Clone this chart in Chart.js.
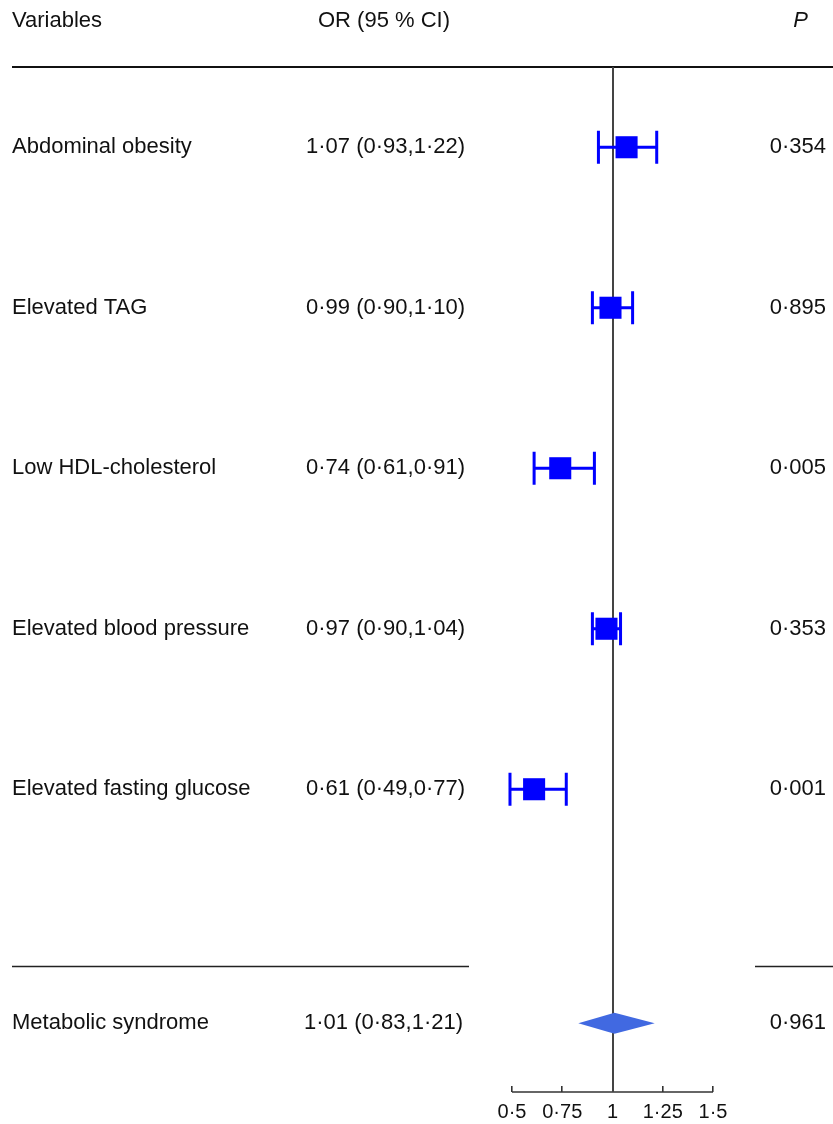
<!DOCTYPE html>
<html>
<head>
<meta charset="utf-8">
<script src="https://cdn.jsdelivr.net/npm/chart.js@4/dist/chart.umd.min.js"></script>
<style>
body { margin: 0; background: #fff; overflow: hidden; }
canvas { display: block; }
</style>
</head>
<body>
<canvas id="forest" width="833" height="1124"></canvas>
<script>
// data
const variables = ['Abdominal obesity', 'Elevated TAG', 'Low HDL-cholesterol', 'Elevated blood pressure', 'Elevated fasting glucose']
const orValues = [1.07, 0.99, 0.74, 0.97, 0.61]
const ciLower = [0.93, 0.90, 0.61, 0.90, 0.49]
const ciUpper = [1.22, 1.10, 0.91, 1.04, 0.77]
const pValues = ['0·354', '0·895', '0·005', '0·353', '0·001']

const summaryLabel = 'Metabolic syndrome'
const summaryOR = 1.01
const summaryLower = 0.83
const summaryUpper = 1.21
const summaryP = '0·961'

const tickValues = [0.5, 0.75, 1, 1.25, 1.5]
const tickLabels = ['0·5', '0·75', '1', '1·25', '1·5']

const headers = ['Variables', 'OR (95 % CI)', 'P']

// layout
const SUMMARY_ROW = 5.458
const DIVIDER_ROW = 5.10
const FONT = '"Liberation Sans", Arial, sans-serif'

function fmt(v) {
  return v.toFixed(2).replace('.', '·')
}

function orText(est, lo, hi) {
  return fmt(est) + ' (' + fmt(lo) + ',' + fmt(hi) + ')'
}

const forestPlugin = {
  id: 'forest',
  beforeDatasetsDraw(chart) {
    const ctx = chart.ctx
    const x = chart.scales.x
    const y = chart.scales.y
    const area = chart.chartArea
    ctx.save()

    // header rule
    ctx.strokeStyle = '#111'
    ctx.lineWidth = 2.2
    ctx.beginPath()
    ctx.moveTo(12, area.top)
    ctx.lineTo(833, area.top)
    ctx.stroke()

    // rule above summary
    const dy = Math.round(y.getPixelForValue(DIVIDER_ROW)) + 0.5
    ctx.lineWidth = 1.6
    ctx.strokeStyle = '#222'
    ctx.beginPath()
    ctx.moveTo(12, dy)
    ctx.lineTo(469, dy)
    ctx.moveTo(755, dy)
    ctx.lineTo(833, dy)
    ctx.stroke()

    // x axis line (ticks point up into it)
    const axisY = area.bottom + 6
    ctx.strokeStyle = '#333'
    ctx.lineWidth = 1.6
    ctx.beginPath()
    ctx.moveTo(x.getPixelForValue(tickValues[0]), axisY)
    ctx.lineTo(x.getPixelForValue(tickValues[tickValues.length - 1]), axisY)
    ctx.stroke()

    // line of no effect
    const x1 = Math.round(x.getPixelForValue(1))
    ctx.strokeStyle = '#444'
    ctx.lineWidth = 2
    ctx.beginPath()
    ctx.moveTo(x1, area.top)
    ctx.lineTo(x1, axisY)
    ctx.stroke()

    // confidence intervals
    ctx.strokeStyle = '#0000ff'
    ctx.lineWidth = 3
    for (let i = 0; i < orValues.length; i++) {
      const py = y.getPixelForValue(i)
      const xl = x.getPixelForValue(ciLower[i])
      const xh = x.getPixelForValue(ciUpper[i])
      ctx.beginPath()
      ctx.moveTo(xl, py)
      ctx.lineTo(xh, py)
      ctx.moveTo(xl, py - 16.5)
      ctx.lineTo(xl, py + 16.5)
      ctx.moveTo(xh, py - 16.5)
      ctx.lineTo(xh, py + 16.5)
      ctx.stroke()
    }

    // summary diamond
    const sy = y.getPixelForValue(SUMMARY_ROW)
    ctx.fillStyle = '#4169e1'
    ctx.beginPath()
    ctx.moveTo(x.getPixelForValue(summaryLower), sy)
    ctx.lineTo(x.getPixelForValue(summaryOR), sy - 10.5)
    ctx.lineTo(x.getPixelForValue(summaryUpper), sy)
    ctx.lineTo(x.getPixelForValue(summaryOR), sy + 10.5)
    ctx.closePath()
    ctx.fill()

    // text columns
    ctx.fillStyle = '#111'
    ctx.textBaseline = 'middle'
    ctx.font = '22px ' + FONT
    ctx.textAlign = 'left'
    ctx.fillText(headers[0], 12, 21)
    ctx.textAlign = 'center'
    ctx.fillText(headers[1], 384, 21)
    ctx.font = 'italic 22px ' + FONT
    ctx.textAlign = 'right'
    ctx.fillText(headers[2], 808, 21)

    ctx.font = '22px ' + FONT
    for (let i = 0; i < variables.length; i++) {
      const py = y.getPixelForValue(i)
      ctx.textAlign = 'left'
      ctx.fillText(variables[i], 12, py)
      ctx.textAlign = 'right'
      ctx.fillText(orText(orValues[i], ciLower[i], ciUpper[i]), 465, py)
      ctx.fillText(pValues[i], 826, py)
    }
    ctx.textAlign = 'left'
    ctx.fillText(summaryLabel, 12, sy)
    ctx.textAlign = 'right'
    ctx.fillText(orText(summaryOR, summaryLower, summaryUpper), 463, sy)
    ctx.fillText(summaryP, 826, sy)

    ctx.restore()
  }
}

new Chart(document.getElementById('forest'), {
  type: 'scatter',
  data: {
    datasets: [{
      label: 'OR',
      data: orValues.map((v, i) => ({ x: v, y: i })),
      pointStyle: 'rect',
      pointRadius: 15.6,
      pointHoverRadius: 15.6,
      backgroundColor: '#0000ff',
      borderWidth: 0,
      clip: false
    }]
  },
  options: {
    responsive: false,
    animation: false,
    events: [],
    layout: {
      padding: { left: 512, right: 120, top: 67, bottom: 0 }
    },
    plugins: {
      legend: { display: false },
      tooltip: { enabled: false }
    },
    scales: {
      x: {
        type: 'linear',
        min: 0.5,
        max: 1.5,
        afterBuildTicks(scale) {
          scale.ticks = tickValues.map(v => ({ value: v }))
        },
        afterFit(scale) {
          scale.height = 38
        },
        border: { display: false },
        grid: {
          drawOnChartArea: false,
          drawTicks: true,
          tickLength: 6,
          color: '#333',
          lineWidth: 1.6
        },
        ticks: {
          padding: 10,
          color: '#111',
          maxRotation: 0,
          font: { family: FONT, size: 20, lineHeight: 1 },
          callback: (v, i) => tickLabels[i]
        }
      },
      y: {
        display: false,
        type: 'linear',
        reverse: true,
        min: -0.5,
        max: 5.849
      }
    }
  },
  plugins: [forestPlugin]
})
</script>
</body>
</html>
